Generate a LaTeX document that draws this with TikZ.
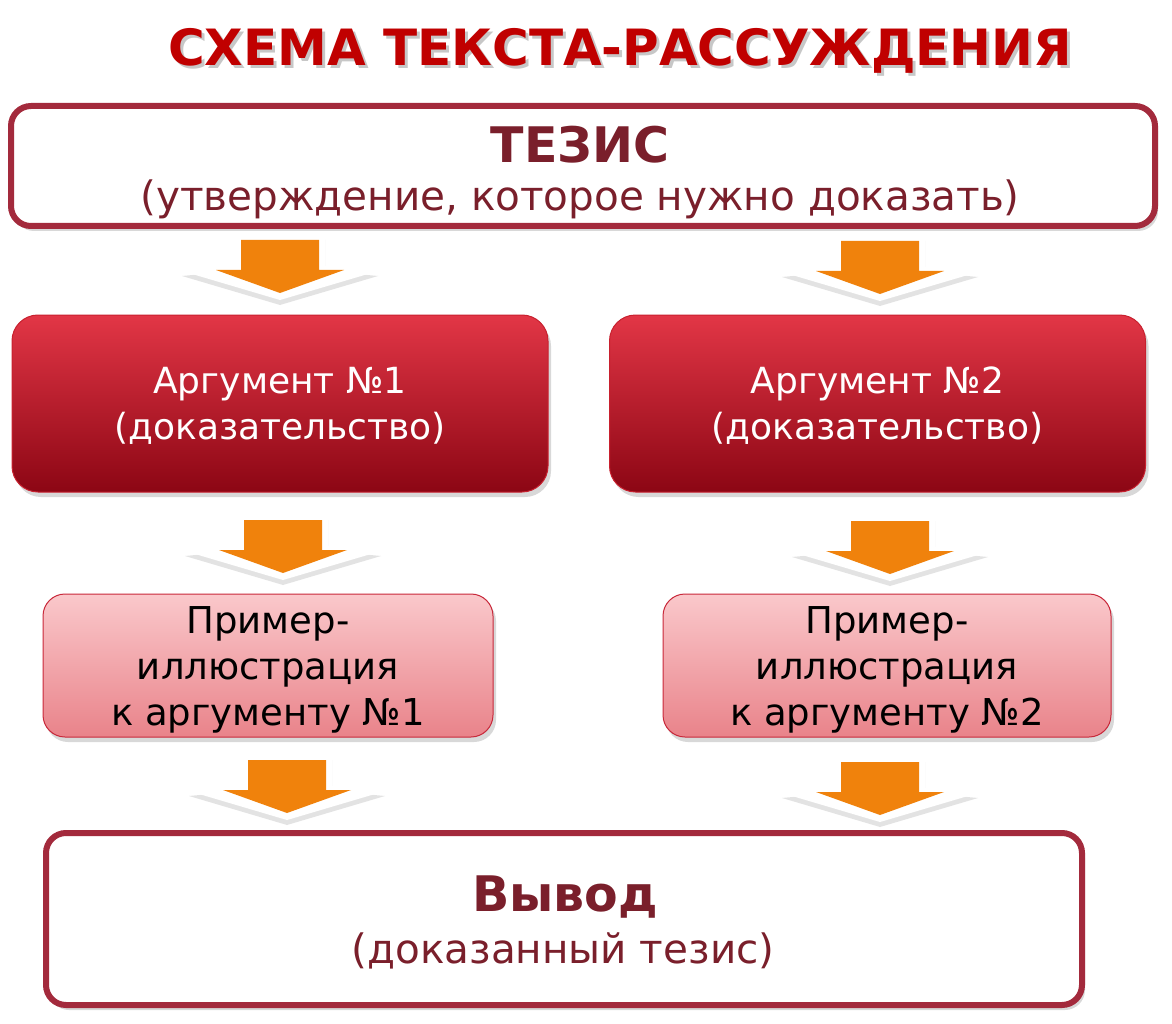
\documentclass[tikz,border=0pt]{standalone}
\usepackage{fontspec}
\setmainfont{DejaVu Sans}
\usetikzlibrary{shadows}
\definecolor{titlered}{HTML}{C00000}
\definecolor{maroon}{HTML}{7A1F2B}
\definecolor{borderred}{HTML}{A32A3C}
\definecolor{argtop}{HTML}{E23646}
\definecolor{argbot}{HTML}{8C0614}
\definecolor{argline}{HTML}{C8202E}
\definecolor{extop}{HTML}{FAC8CB}
\definecolor{exbot}{HTML}{E9838A}
\definecolor{exline}{HTML}{C8283A}
\definecolor{arrorange}{HTML}{F0820C}
\newcommand{\shadowtext}[1]{\makebox[0pt][l]{\hspace{3pt}\raisebox{-3pt}{\textcolor{black!22}{#1}}}#1}
\tikzset{
  myshadow/.style={drop shadow={shadow xshift=3pt,shadow yshift=-5pt,opacity=.22,fill=black!70}},
  whitebox/.style={draw=borderred,line width=6pt,fill=white,rounded corners=20pt,myshadow},
  argbox/.style={draw=argline,line width=1pt,top color=argtop,bottom color=argbot,rounded corners=26pt,myshadow,minimum width=536pt,minimum height=177pt},
  exbox/.style={draw=exline,line width=1pt,top color=extop,bottom color=exbot,rounded corners=22pt,myshadow,minimum width=450pt,minimum height=143pt},
  argtext/.style={text=white,align=center,font=\fontsize{36}{46}\selectfont},
  extext/.style={text=black,align=center,font=\fontsize{37}{46}\selectfont},
  headtext/.style={text=maroon,font=\fontsize{49}{52}\selectfont\bfseries},
  subtext/.style={text=maroon,font=\fontsize{40.5}{44}\selectfont},
  blockarrow/.pic={
    \fill[white,drop shadow={shadow xshift=0pt,shadow yshift=-5pt,opacity=.18,fill=black!60}]
      (-45,0) -- (45,0) -- (45,31) -- (98,36) -- (0,65) -- (-98,36) -- (-45,31) -- cycle;
    \fill[arrorange] (-39,5) -- (39,5) -- (39,35) -- (64,35) -- (0,58) -- (-64,35) -- (-39,35) -- cycle;
  }
}
\begin{document}
\begin{tikzpicture}[x=1pt,y=-1pt]
\useasboundingbox (0,0) rectangle (1172,1024);
% title
\node[text=titlered,font=\fontsize{50}{54}\selectfont\bfseries] (title) at (620,52) {\shadowtext{СХЕМА ТЕКСТА-РАССУЖДЕНИЯ}};
% thesis
\node[whitebox,minimum width=1144pt,minimum height=120pt] (thesis) at (583,166) {};
\node[headtext] (thesisH) at (580,145) {ТЕЗИС};
\node[subtext] (thesisS) at (580,199) {(утверждение, которое нужно доказать)};
% arrows row 1
\pic (a1) at (280,235) {blockarrow};
\pic (a2) at (880,236) {blockarrow};
% arguments
\node[argbox] (arg1) at (280,403.5) {};
\node[argtext] (arg1t) at ([yshift=-2pt]arg1.center) {Аргумент №1\\(доказательство)};
\node[argbox] (arg2) at (877.5,403.5) {};
\node[argtext] (arg2t) at ([yshift=-2pt]arg2.center) {Аргумент №2\\(доказательство)};
% arrows row 2
\pic (a3) at (283,515) {blockarrow};
\pic (a4) at (890,516) {blockarrow};
% examples
\node[exbox] (ex1) at (268,665.5) {};
\node[extext] (ex1t) at ([yshift=-4pt]ex1.center) {Пример-\\иллюстрация\\к аргументу №1};
\node[exbox,minimum width=448pt] (ex2) at (887,665.5) {};
\node[extext] (ex2t) at ([yshift=-4pt]ex2.center) {Пример-\\иллюстрация\\к аргументу №2};
% arrows row 3
\pic (a5) at (287,755) {blockarrow};
\pic (a6) at (880,757) {blockarrow};
% conclusion
\node[whitebox,minimum width=1036pt,minimum height=172pt] (concl) at (564,919) {};
\node[headtext] (conclH) at (565,897) {Вывод};
\node[subtext] (conclS) at (563,951) {(доказанный тезис)};
\end{tikzpicture}
\end{document}
